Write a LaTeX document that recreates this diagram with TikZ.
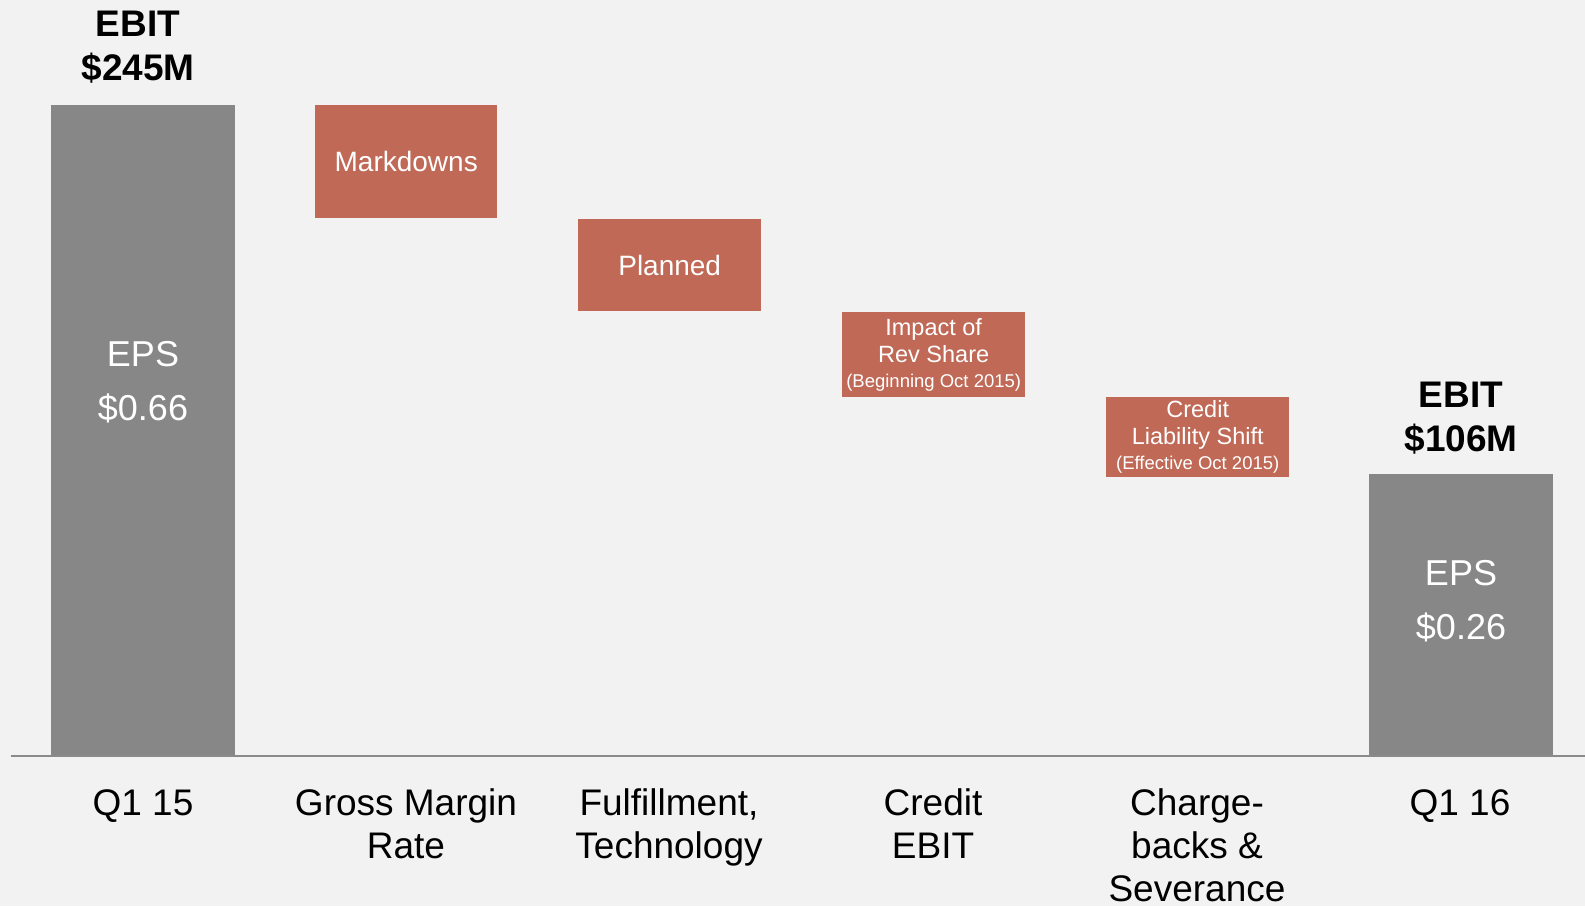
\documentclass[tikz,border=0pt]{standalone}
\usepackage{fontspec}
\setmainfont{Liberation Sans}

\definecolor{paper}{HTML}{F2F2F2}
\definecolor{totalgray}{HTML}{878787}
\definecolor{dropred}{HTML}{BF6956}
\definecolor{axisgray}{HTML}{8A8A8A}

\begin{document}
\begin{tikzpicture}[x=1pt,y=-1pt,
    total/.style={fill=totalgray,draw=none,inner sep=0pt,anchor=north west,minimum width=184},
    drop/.style={fill=dropred,draw=none,inner sep=0pt,anchor=north west,minimum width=183,
        text=white,align=center,font=\fontsize{28}{33}\selectfont},
    note/.style={font=\fontsize{23.5}{27}\selectfont},
    head/.style={anchor=base,align=center,inner sep=0pt,font=\fontsize{37}{44}\selectfont\bfseries},
    eps/.style={anchor=base,align=center,inner sep=0pt,text=white,font=\fontsize{36}{54}\selectfont},
    cat/.style={anchor=base,align=center,inner sep=0pt,font=\fontsize{37}{43}\selectfont}]

        \fill[paper](0,0)rectangle(1585,906);
        \useasboundingbox(0,0)rectangle(1585,906);

        % totals
        \node[total,minimum height=650](q15bar)at(51,105){};
        \node[total,minimum height=281](q16bar)at(1369,474){};

        % drops
        \node[drop,minimum width=182,minimum height=113](markdowns)at(315,105){Markdowns};
        \node[drop,minimum height=92](planned)at(578,219){Planned};
        \node[drop,note,minimum height=85](revshare)at(842,312)
            {Impact of\\Rev Share\\[-2pt]{\fontsize{18.5}{22}\selectfont(Beginning Oct 2015)}};
        \node[drop,note,minimum height=80](liability)at(1106,397)
            {Credit\\Liability Shift\\[-2pt]{\fontsize{18.5}{22}\selectfont(Effective Oct 2015)}};

        \draw[axisgray,line width=2pt](11,755.5)--(1585,755.5);

        % values (base = last line)
        \node[head](q15ebit)at(138,80.5){EBIT\\\$245M};
        \node[head](q16ebit)at(1461,451.5){EBIT\\\$106M};
        \node[eps](q15eps)at(143,420.5){EPS\\\$0.66};
        \node[eps](q16eps)at(1461,639){EPS\\\$0.26};

        % categories
        \node[cat](q15lbl)at(143,815){Q1 15};
        \node[cat](gmlbl)at(406,858){Gross Margin\\Rate};
        \node[cat](fulbl)at(669,858){Fulfillment,\\Technology};
        \node[cat](crlbl)at(933,858){Credit\\EBIT};
        \node[cat](cblbl)at(1197,901){Charge-\\backs \&\\Severance};
        \node[cat](q16lbl)at(1460,815){Q1 16};
    \end{tikzpicture}
\end{document}
